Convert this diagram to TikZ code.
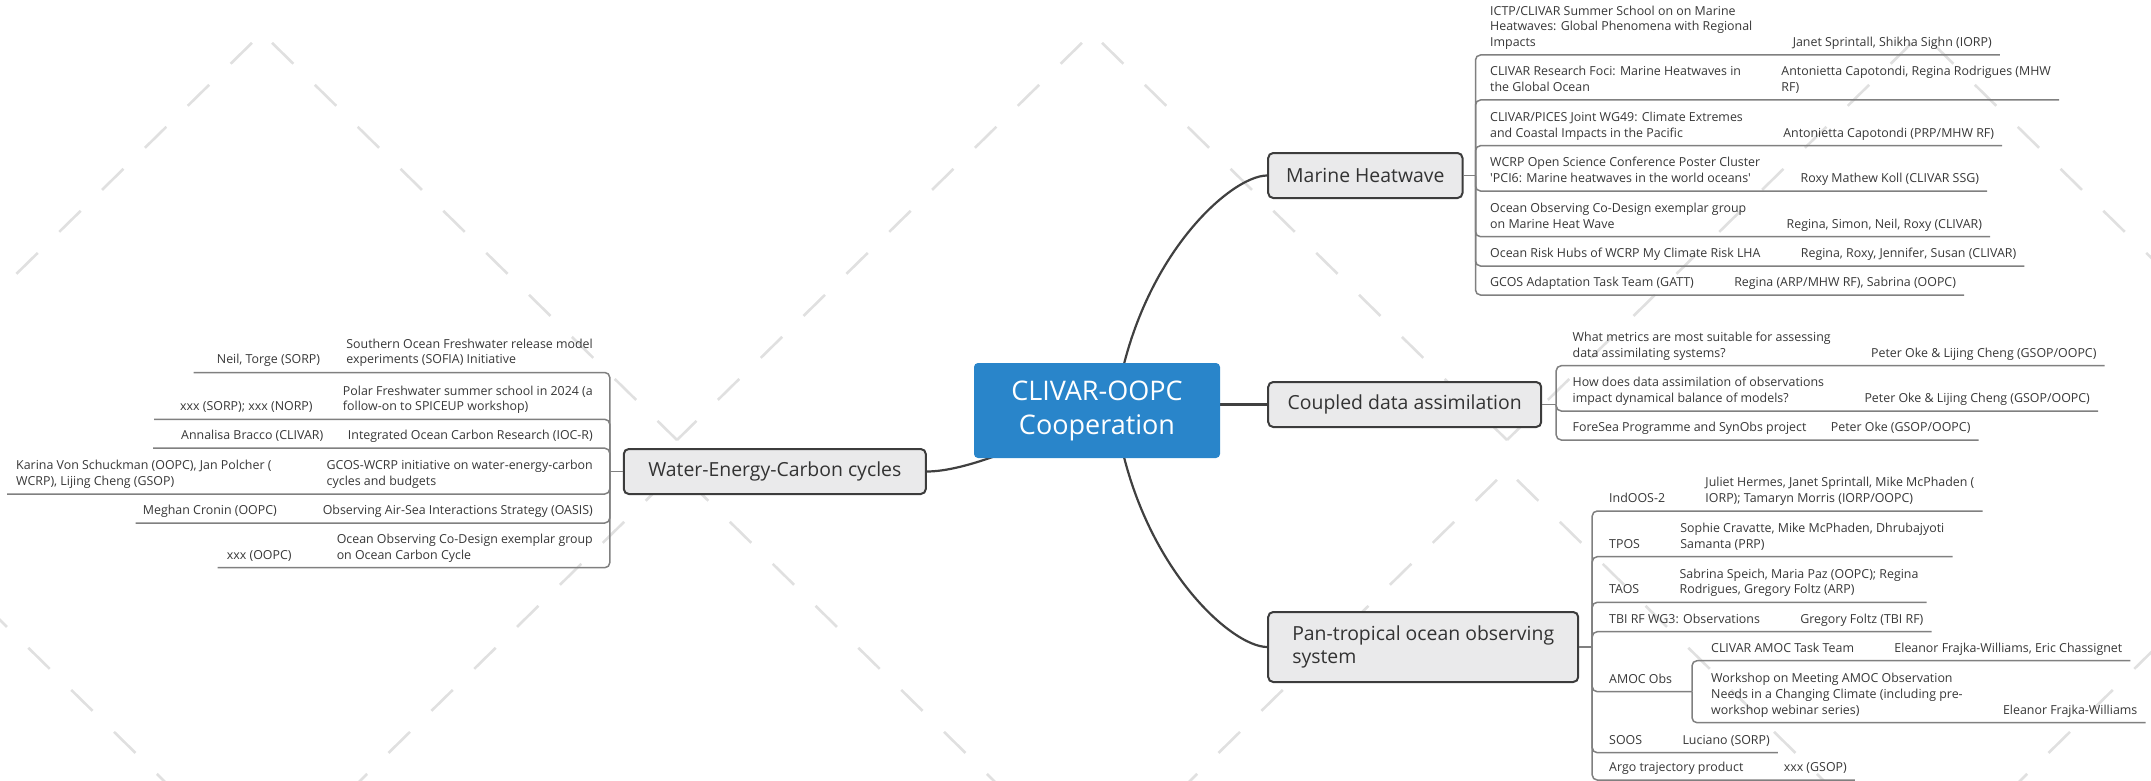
\documentclass[tikz,border=0pt]{standalone}
\usepackage{fontspec}
\setmainfont{Open Sans}
\usepackage{tikz}
\usetikzlibrary{positioning,calc,backgrounds}

\definecolor{coreblue}{RGB}{41,133,202}
\definecolor{topicfill}{RGB}{234,234,235}
\definecolor{topicline}{RGB}{60,60,60}
\definecolor{twiggray}{RGB}{128,128,128}
\definecolor{itemtext}{RGB}{55,55,55}
\definecolor{wmark}{RGB}{224,224,224}

\begin{document}
\begin{tikzpicture}[x=1pt, y=-1pt, node distance=40pt, every node/.style={font=\fontsize{12.4}{15.6}\selectfont}]
    \tikzset{core/.style={fill=coreblue, text=white, rounded corners=4pt, minimum width=246pt, minimum height=95pt, align=center, font=\fontsize{27}{34}\selectfont},
      topic/.style={draw=topicline, fill=topicfill, line width=2pt, rounded corners=5pt, minimum height=45pt, inner xsep=18pt, text=black!80, font=\fontsize{19.4}{23.3}\selectfont},
      itm/.style={inner xsep=0pt, inner ysep=3.8pt, align=left, anchor=south west, text=itemtext, execute at end node=\strut},
      stem/.style={draw=black!75, line width=2.2pt},
      twig/.style={draw=twiggray, line width=1.5pt, rounded corners=5pt},
      wm/.style={draw=wmark, line width=2.6pt, dash pattern=on 30pt off 30pt, dash phase=46pt}}
    \useasboundingbox (0,0) rectangle (2151,781);
    % central topic and main topics
    \node[core] (cen) at (1097,410.5) {CLIVAR-OOPC\\Cooperation};
    \node[topic, minimum width=193pt, right=47pt of cen, yshift=235pt] (mh) {Marine Heatwave};
    \node[topic, minimum width=273pt, right=47pt of cen, yshift=6pt] (cda) {Coupled data assimilation};
    \node[topic, minimum width=310pt, minimum height=70pt, align=left, right=47pt of cen, yshift=-236.5pt] (pt) {Pan-tropical ocean observing\\system};
    \node[topic, minimum width=302pt, left=47pt of cen, yshift=-61pt] (wec) {Water-Energy-Carbon cycles};
    % branch points
    \coordinate[right=12pt of mh] (mhj);
    \coordinate[right=14pt of cda] (cdj);
    \coordinate[right=13pt of pt] (ptj);
    \coordinate[left=13pt of wec] (wcj);
    \coordinate (amj) at (1692,691.7);
    \draw[twig] (mh) -- (mhj);
    \draw[twig] (cda) -- (cdj);
    \draw[twig] (pt) -- (ptj);
    \draw[twig] (wec) -- (wcj);
    % Marine Heatwave items
    \node[itm] (mh1) at (1490,55) {ICTP/CLIVAR Summer School on on Marine\\Heatwaves: Global Phenomena with Regional\\Impacts};
    \node[itm, right=of mh1.south east, anchor=south west] (mh1r) {Janet Sprintall, Shikha Sighn (IORP)};
    \node[itm] (mh2) at (1490,100) {CLIVAR Research Foci: Marine Heatwaves in\\the Global Ocean};
    \node[itm, right=of mh2.south east, anchor=south west] (mh2r) {Antonietta Capotondi, Regina Rodrigues (MHW\\RF)};
    \node[itm] (mh3) at (1490,145.7) {CLIVAR/PICES Joint WG49: Climate Extremes\\and Coastal Impacts in the Pacific};
    \node[itm, right=of mh3.south east, anchor=south west] (mh3r) {Antonietta Capotondi (PRP/MHW RF)};
    \node[itm] (mh4) at (1490,191) {WCRP Open Science Conference Poster Cluster\\\textquotesingle PCI6: Marine heatwaves in the world oceans\textquotesingle};
    \node[itm, right=of mh4.south east, anchor=south west] (mh4r) {Roxy Mathew Koll (CLIVAR SSG)};
    \node[itm] (mh5) at (1490,236.7) {Ocean Observing Co-Design exemplar group\\on Marine Heat Wave};
    \node[itm, right=of mh5.south east, anchor=south west] (mh5r) {Regina, Simon, Neil, Roxy (CLIVAR)};
    \node[itm] (mh6) at (1490,266) {Ocean Risk Hubs of WCRP My Climate Risk LHA};
    \node[itm, right=of mh6.south east, anchor=south west] (mh6r) {Regina, Roxy, Jennifer, Susan (CLIVAR)};
    \node[itm] (mh7) at (1490,295) {GCOS Adaptation Task Team (GATT)};
    \node[itm, right=of mh7.south east, anchor=south west] (mh7r) {Regina (ARP/MHW RF), Sabrina (OOPC)};
    \draw[twig] (mhj) |- ([xshift=8pt]mh1r.south east);
    \draw[twig] (mhj) |- ([xshift=8pt]mh2r.south east);
    \draw[twig] (mhj) |- ([xshift=8pt]mh3r.south east);
    \draw[twig] (mhj) |- ([xshift=8pt]mh4r.south east);
    \draw[twig] (mhj) |- ([xshift=8pt]mh5r.south east);
    \draw[twig] (mhj) |- ([xshift=8pt]mh6r.south east);
    \draw[twig] (mhj) |- ([xshift=8pt]mh7r.south east);
    % Coupled data assimilation items
    \node[itm] (cd1) at (1572.5,365.7) {What metrics are most suitable for assessing\\data assimilating systems?};
    \node[itm, right=of cd1.south east, anchor=south west] (cd1r) {Peter Oke \& Lijing Cheng (GSOP/OOPC)};
    \node[itm] (cd2) at (1572.5,411) {How does data assimilation of observations\\impact dynamical balance of models?};
    \node[itm, right=of cd2.south east, anchor=south west] (cd2r) {Peter Oke \& Lijing Cheng (GSOP/OOPC)};
    \node[itm] (cd3) at (1572.5,440) {ForeSea Programme and SynObs project};
    \node[itm, right=24pt of cd3.south east, anchor=south west] (cd3r) {Peter Oke (GSOP/OOPC)};
    \draw[twig] (cdj) |- ([xshift=8pt]cd1r.south east);
    \draw[twig] (cdj) |- ([xshift=8pt]cd2r.south east);
    \draw[twig] (cdj) |- ([xshift=8pt]cd3r.south east);
    % Pan-tropical items
    \node[itm] (pt1) at (1609,511) {IndOOS-2};
    \node[itm, right=of pt1.south east, anchor=south west] (pt1r) {Juliet Hermes, Janet Sprintall, Mike McPhaden (\\IORP); Tamaryn Morris (IORP/OOPC)};
    \node[itm] (pt2) at (1609,556.7) {TPOS};
    \node[itm, right=of pt2.south east, anchor=south west] (pt2r) {Sophie Cravatte, Mike McPhaden, Dhrubajyoti\\Samanta (PRP)};
    \node[itm] (pt3) at (1609,602.3) {TAOS};
    \node[itm, right=of pt3.south east, anchor=south west] (pt3r) {Sabrina Speich, Maria Paz (OOPC); Regina\\Rodrigues, Gregory Foltz (ARP)};
    \node[itm] (pt4) at (1609,631.7) {TBI RF WG3: Observations};
    \node[itm, right=of pt4.south east, anchor=south west] (pt4r) {Gregory Foltz (TBI RF)};
    \node[itm] (pt5) at (1609,691.7) {AMOC Obs};
    \node[itm] (am1) at (1711,660.7) {CLIVAR AMOC Task Team};
    \node[itm, right=of am1.south east, anchor=south west] (am1r) {Eleanor Frajka-Williams, Eric Chassignet};
    \node[itm] (am2) at (1711,722.7) {Workshop on Meeting AMOC Observation\\Needs in a Changing Climate (including pre-\\workshop webinar series)};
    \node[itm, right=of am2.south east, anchor=south west] (am2r) {Eleanor Frajka-Williams};
    \node[itm] (pt6) at (1609,752.7) {SOOS};
    \node[itm, right=of pt6.south east, anchor=south west] (pt6r) {Luciano (SORP)};
    \node[itm] (pt7) at (1609,780) {Argo trajectory product};
    \node[itm, right=of pt7.south east, anchor=south west] (pt7r) {xxx (GSOP)};
    \draw[twig] (ptj) |- ([xshift=8pt]pt1r.south east);
    \draw[twig] (ptj) |- ([xshift=8pt]pt2r.south east);
    \draw[twig] (ptj) |- ([xshift=8pt]pt3r.south east);
    \draw[twig] (ptj) |- ([xshift=8pt]pt4r.south east);
    \draw[twig] (ptj) |- (amj);
    \draw[twig] (amj) |- ([xshift=8pt]am1r.south east);
    \draw[twig] (amj) |- ([xshift=8pt]am2r.south east);
    \draw[twig] (ptj) |- ([xshift=8pt]pt6r.south east);
    \draw[twig] (ptj) |- ([xshift=8pt]pt7r.south east);
    % Water-Energy-Carbon items (names on the left)
    \node[itm, anchor=south east] (wc1) at (593,372.5) {Southern Ocean Freshwater release model\\experiments (SOFIA) Initiative};
    \node[itm] (wc1n) at (216.7,372.5) {Neil, Torge (SORP)};
    \node[itm, anchor=south east] (wc2) at (593,419.3) {Polar Freshwater summer school in 2024 (a\\follow-on to SPICEUP workshop)};
    \node[itm] (wc2n) at (180,419.3) {xxx (SORP); xxx (NORP)};
    \node[itm, anchor=south east] (wc3) at (593,448.2) {Integrated Ocean Carbon Research (IOC-R)};
    \node[itm] (wc3n) at (181,448.2) {Annalisa Bracco (CLIVAR)};
    \node[itm, anchor=south east] (wc4) at (593,494) {GCOS-WCRP initiative on water-energy-carbon\\cycles and budgets};
    \node[itm] (wc4n) at (16,494) {Karina Von Schuckman (OOPC), Jan Polcher (\\WCRP), Lijing Cheng (GSOP)};
    \node[itm, anchor=south east] (wc5) at (593,523) {Observing Air-Sea Interactions Strategy (OASIS)};
    \node[itm] (wc5n) at (142.7,523) {Meghan Cronin (OOPC)};
    \node[itm, anchor=south east] (wc6) at (593,567.7) {Ocean Observing Co-Design exemplar group\\on Ocean Carbon Cycle};
    \node[itm] (wc6n) at (226.7,567.7) {xxx (OOPC)};
    \draw[twig] (wcj) |- ([xshift=-23pt]wc1n.south west);
    \draw[twig] (wcj) |- ([xshift=-26pt]wc2n.south west);
    \draw[twig] (wcj) |- ([xshift=-28pt]wc3n.south west);
    \draw[twig] (wcj) |- ([xshift=-9pt]wc4n.south west);
    \draw[twig] (wcj) |- ([xshift=-7pt]wc5n.south west);
    \draw[twig] (wcj) |- ([xshift=-9pt]wc6n.south west);
    % watermark and main connectors behind the topics
    \begin{scope}[on background layer]
      \begin{scope}
        \clip (0,0) rectangle (2151,781);
        \foreach \wx in {-568,262,1092,1922} {
          \draw[wm] (\wx,33) -- (\wx-415,440);
          \draw[wm] (\wx,33) -- (\wx+415,440);
        }
        \foreach \wx in {-153,677,1507,2337} {
          \draw[wm] (\wx,470) -- (\wx-415,877);
          \draw[wm] (\wx,470) -- (\wx+415,877);
        }
      \end{scope}
      \draw[stem] ([xshift=18pt]cen.center) .. controls ([xshift=38pt,yshift=150pt]cen.center) and ([xshift=-37pt]mh.west) .. (mh.west);
      \draw[stem] (cen.east |- cda.west) -- (cda.west);
      \draw[stem] ([xshift=18pt]cen.center) .. controls ([xshift=38pt,yshift=-150pt]cen.center) and ([xshift=-37pt]pt.west) .. (pt.west);
      \draw[stem] (cen.center) .. controls ([xshift=-67pt,yshift=-34.5pt]cen.center) and ([xshift=38pt]wec.east) .. (wec.east);
    \end{scope}
\end{tikzpicture}
\end{document}
